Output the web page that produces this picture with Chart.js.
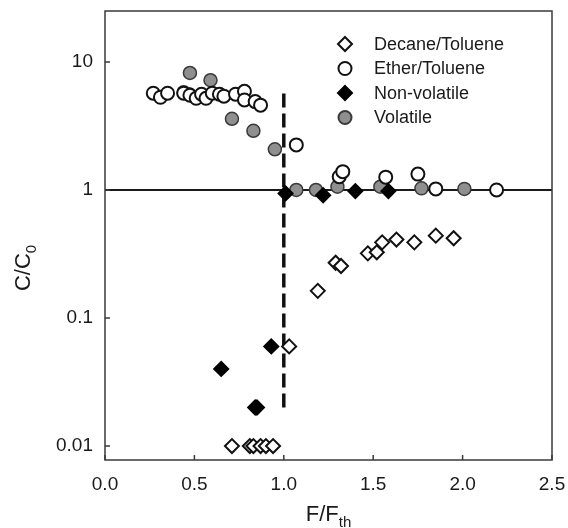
<!DOCTYPE html>
<html>
<head>
<meta charset="utf-8">
<title>C/C0 vs F/Fth</title>
<script src="https://cdn.jsdelivr.net/npm/chart.js@4.4.0/dist/chart.umd.min.js"></script>
<style>
  html, body { margin: 0; padding: 0; background: #fff; }
  #wrap { width: 568px; height: 528px; }
</style>
</head>
<body>
<div id="wrap"><canvas id="chart" width="568" height="528"></canvas></div>
<script>
// values
const decaneX = [0.71, 0.81, 0.83, 0.87, 0.90, 0.94, 1.03, 1.19, 1.29, 1.32, 1.47, 1.52, 1.55, 1.63, 1.73, 1.85, 1.95];
const decaneY = [0.01, 0.01, 0.01, 0.01, 0.01, 0.01, 0.060, 0.163, 0.27, 0.255, 0.32, 0.326, 0.39, 0.41, 0.39, 0.44, 0.42];

const etherX = [0.27, 0.31, 0.35, 0.44, 0.475, 0.51, 0.54, 0.565, 0.60, 0.64, 0.665, 0.73, 0.78, 0.78, 0.84, 0.87, 1.07, 1.31, 1.33, 1.57, 1.75, 1.85, 2.19];
const etherY = [5.7, 5.3, 5.7, 5.7, 5.5, 5.2, 5.6, 5.2, 5.7, 5.6, 5.4, 5.6, 5.9, 5.05, 4.9, 4.6, 2.25, 1.27, 1.39, 1.26, 1.33, 1.02, 1.0];

const nonVolX = [0.65, 0.84, 0.85, 0.93, 1.01, 1.22, 1.40, 1.585];
const nonVolY = [0.040, 0.020, 0.020, 0.060, 0.94, 0.91, 0.98, 0.98];

const volX = [0.44, 0.47, 0.475, 0.59, 0.71, 0.83, 0.95, 1.07, 1.18, 1.30, 1.54, 1.77, 2.01];
const volY = [5.8, 5.6, 8.2, 7.2, 3.6, 2.9, 2.08, 1.0, 1.0, 1.06, 1.06, 1.03, 1.02];

// reference lines
const unityX = [0, 2.5];
const unityY = [1, 1];
const thresholdX = [1, 1];
const thresholdY = [0.02, 6.1];

const xTicks = [0, 0.5, 1, 1.5, 2, 2.5];
const yTicks = [0.01, 0.1, 1, 10];

const FONT = "'Liberation Sans', Arial, sans-serif";
const GRAY = '#8f8f8f';

function pts(xs, ys) {
    return xs.map(function (x, i) { return { x: x, y: ys[i] }; });
}

const legendItems = [
    { label: 'Decane/Toluene', shape: 'diamond', fill: '#fff', stroke: '#111' },
    { label: 'Ether/Toluene', shape: 'circle', fill: '#fff', stroke: '#111' },
    { label: 'Non-volatile', shape: 'diamond', fill: '#000', stroke: '#000' },
    { label: 'Volatile', shape: 'circle', fill: GRAY, stroke: '#3a3a3a' }
];

function marker(ctx, shape, x, y, r, fill, stroke) {
    ctx.beginPath();
    if (shape === 'circle') {
        ctx.arc(x, y, r, 0, Math.PI * 2);
    } else {
        ctx.moveTo(x, y - r);
        ctx.lineTo(x + r, y);
        ctx.lineTo(x, y + r);
        ctx.lineTo(x - r, y);
        ctx.closePath();
    }
    ctx.fillStyle = fill;
    ctx.fill();
    ctx.lineWidth = 2;
    ctx.strokeStyle = stroke;
    ctx.stroke();
}

// frame, inward ticks, axis titles and legend
const decorPlugin = {
    id: 'decor',
    afterDraw: function (chart) {
        const ctx = chart.ctx;
        const a = chart.chartArea;
        const xs = chart.scales.x;
        const ys = chart.scales.y;
        ctx.save();

        ctx.strokeStyle = '#3a3a3a';
        ctx.lineWidth = 1.5;
        ctx.strokeRect(a.left, a.top, a.right - a.left, a.bottom - a.top);

        ctx.beginPath();
        xTicks.forEach(function (v) {
            const px = xs.getPixelForValue(v);
            ctx.moveTo(px, a.bottom);
            ctx.lineTo(px, a.bottom - 5);
        });
        yTicks.forEach(function (v) {
            const py = ys.getPixelForValue(v);
            ctx.moveTo(a.left, py);
            ctx.lineTo(a.left + 5, py);
        });
        ctx.stroke();

        // x title F/Fth
        ctx.fillStyle = '#1a1a1a';
        ctx.textBaseline = 'alphabetic';
        ctx.textAlign = 'left';
        ctx.font = '22px ' + FONT;
        const mainW = ctx.measureText('F/F').width;
        ctx.font = '15px ' + FONT;
        const subW = ctx.measureText('th').width;
        let sx = (a.left + a.right) / 2 - (mainW + subW) / 2;
        ctx.font = '22px ' + FONT;
        ctx.fillText('F/F', sx, 521);
        ctx.font = '15px ' + FONT;
        ctx.fillText('th', sx + mainW, 527);

        // y title C/C0
        ctx.save();
        ctx.translate(30, 268);
        ctx.rotate(-Math.PI / 2);
        ctx.font = '22px ' + FONT;
        const cW = ctx.measureText('C/C').width;
        ctx.font = '15px ' + FONT;
        const zW = ctx.measureText('0').width;
        const start = -(cW + zW) / 2;
        ctx.font = '22px ' + FONT;
        ctx.fillText('C/C', start, 0);
        ctx.font = '15px ' + FONT;
        ctx.fillText('0', start + cW, 6);
        ctx.restore();

        // legend
        ctx.font = '18px ' + FONT;
        ctx.textBaseline = 'middle';
        legendItems.forEach(function (it, i) {
            const ly = 44 + i * 24.5;
            marker(ctx, it.shape, 345, ly, it.shape === 'circle' ? 6.5 : 7, it.fill, it.stroke);
            ctx.fillStyle = '#1a1a1a';
            ctx.fillText(it.label, 374, ly + 1);
        });

        ctx.restore();
    }
};

const ctx = document.getElementById('chart').getContext('2d');
const chart = new Chart(ctx, {
    type: 'scatter',
    data: {
        datasets: [
            {
                label: 'Decane/Toluene',
                data: pts(decaneX, decaneY),
                pointStyle: 'rectRot',
                pointRadius: 7,
                backgroundColor: '#fff',
                borderColor: '#111',
                borderWidth: 2,
                order: 1
            },
            {
                label: 'Non-volatile',
                data: pts(nonVolX, nonVolY),
                pointStyle: 'rectRot',
                pointRadius: 7,
                backgroundColor: '#000',
                borderColor: '#000',
                borderWidth: 2,
                order: 2
            },
            {
                label: 'Ether/Toluene',
                data: pts(etherX, etherY),
                pointStyle: 'circle',
                pointRadius: 6.5,
                backgroundColor: '#fff',
                borderColor: '#111',
                borderWidth: 2,
                order: 3
            },
            {
                label: 'Volatile',
                data: pts(volX, volY),
                pointStyle: 'circle',
                pointRadius: 6.5,
                backgroundColor: GRAY,
                borderColor: '#3a3a3a',
                borderWidth: 1.5,
                order: 4
            },
            {
                type: 'line',
                label: 'threshold',
                data: pts(thresholdX, thresholdY),
                borderColor: '#111',
                borderWidth: 3.5,
                borderDash: [14, 6],
                pointRadius: 0,
                fill: false,
                order: 5
            },
            {
                type: 'line',
                label: 'unity',
                data: pts(unityX, unityY),
                borderColor: '#1a1a1a',
                borderWidth: 2,
                pointRadius: 0,
                fill: false,
                order: 6
            }
        ]
    },
    options: {
        responsive: false,
        animation: false,
        layout: {
            padding: { top: 11, right: 16, left: 0, bottom: 0 }
        },
        plugins: {
            legend: { display: false },
            tooltip: { enabled: false }
        },
        scales: {
            x: {
                type: 'linear',
                min: 0,
                max: 2.5,
                grid: { display: false, drawTicks: false },
                border: { display: false },
                afterBuildTicks: function (scale) {
                    scale.ticks = xTicks.map(function (v) { return { value: v }; });
                },
                afterFit: function (scale) {
                    scale.height = 68;
                    scale.paddingLeft = 0;
                    scale.paddingRight = 0;
                },
                ticks: {
                    autoSkip: false,
                    maxRotation: 0,
                    padding: 13,
                    color: '#1a1a1a',
                    font: { family: FONT, size: 19 },
                    callback: function (v) { return Number(v).toFixed(1); }
                }
            },
            y: {
                type: 'logarithmic',
                min: 0.00778,
                max: 25,
                grid: { display: false, drawTicks: false },
                border: { display: false },
                afterBuildTicks: function (scale) {
                    scale.ticks = yTicks.map(function (v) { return { value: v }; });
                },
                afterFit: function (scale) {
                    scale.width = 105;
                    scale.paddingTop = 0;
                    scale.paddingBottom = 0;
                },
                ticks: {
                    autoSkip: false,
                    padding: 12,
                    color: '#1a1a1a',
                    font: { family: FONT, size: 19 },
                    callback: function (v) { return String(v); }
                }
            }
        }
    },
    plugins: [decorPlugin]
});
</script>
</body>
</html>
